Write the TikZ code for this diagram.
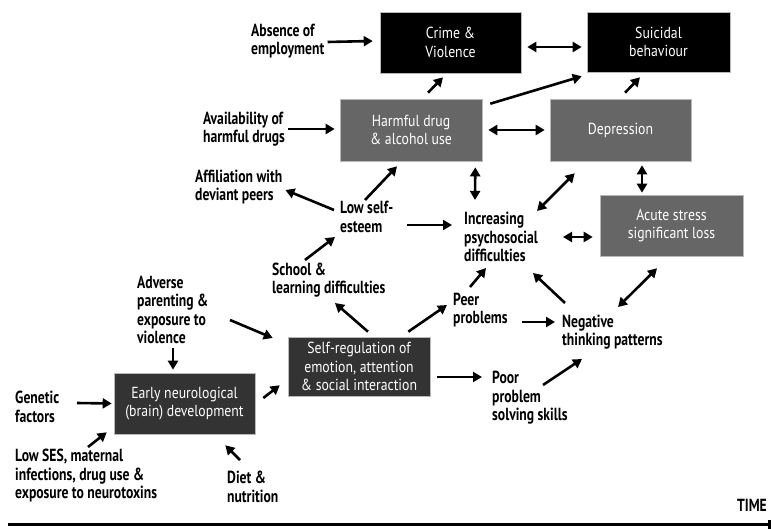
\documentclass[tikz,border=0pt]{standalone}
\usepackage{fontspec}
\setmainfont[FakeStretch=0.86, BoldFeatures={FakeStretch=0.78}]{PT Sans}
\usetikzlibrary{arrows.meta}
\definecolor{boxdark}{HTML}{333333}
\definecolor{boxgray}{HTML}{666666}
\tikzset{
  txt/.style={inner sep=0pt, align=left, anchor=west, font=\fontsize{17.5}{18.5}\selectfont\bfseries},
  boxbase/.style={rectangle, draw=gray!55, line width=0.6pt, text=white, align=center, inner sep=0pt, font=\fontsize{16}{18.5}\selectfont},
  blackbox/.style={boxbase, fill=black},
  darkbox/.style={boxbase, fill=boxdark},
  graybox/.style={boxbase, fill=boxgray},
  arr/.style={line width=2.6pt, -{Triangle[length=9pt,width=10pt]}},
  darr/.style={line width=2.6pt, {Triangle[length=9pt,width=10pt]}-{Triangle[length=9pt,width=10pt]}},
}
\begin{document}
\begin{tikzpicture}[x=1pt,y=-1pt]
\useasboundingbox (0,0) rectangle (771,529);
% boxes
\node[blackbox, minimum width=141pt, minimum height=61pt] (crime) at (450.5,42.5) {Crime \&\\Violence};
\node[blackbox, minimum width=143pt, minimum height=60pt] (suic) at (658.5,42) {Suicidal\\behaviour};
\node[graybox, minimum width=142pt, minimum height=62pt] (hd) at (411,130) {Harmful drug\\\& alcohol use};
\node[graybox, minimum width=141pt, minimum height=62pt] (dep) at (620.5,130) {Depression};
\node[graybox, minimum width=143pt, minimum height=61pt] (acute) at (671.5,225.5) {Acute stress\\significant loss};
\node[darkbox, minimum width=141pt, minimum height=61pt] (early) at (184.5,403.5) {Early neurological\\(brain) development};
\node[darkbox, minimum width=142pt, minimum height=59pt] (selfreg) at (359,366.5) {Self-regulation of\\emotion, attention\\\& social interaction};
% free texts
\node[txt] (abs) at (251,41) {Absence of\\employment};
\node[txt] (avail) at (203,129) {Availability of\\harmful drugs};
\node[txt] (affil) at (195,187) {Affiliation with\\deviant peers};
\node[txt] (lowse) at (340,217) {Low self-\\esteem};
\node[txt] (incr) at (464,237) {Increasing\\psychosocial\\difficulties};
\node[txt] (school) at (272,280) {School \&\\learning difficulties};
\node[txt] (adverse) at (137,310) {Adverse\\parenting \&\\exposure to\\violence};
\node[txt] (genetic) at (15,407) {Genetic\\factors};
\node[txt] (lowses) at (15,476) {Low SES, maternal\\infections, drug use \&\\exposure to neurotoxins};
\node[txt] (diet) at (227,487) {Diet \&\\nutrition};
\node[txt] (peer) at (453,310) {Peer\\problems};
\node[txt] (neg) at (562,332) {Negative\\thinking patterns};
\node[txt] (poor) at (492,398) {Poor\\problem\\solving skills};
\node[txt, anchor=east] (time) at (767,505) {TIME};
% arrows
\draw[arr] ([shift={(3,1)}]abs.east) -- ([shift={(-7,-1.5)}]crime.west);
\draw[arr] ([shift={(3,0)}]avail.east) -- ([shift={(-5,-1)}]hd.west);
\draw[arr] ([shift={(-6,-7)}]lowse.west) -- ([shift={(3,3)}]affil.east);
\draw[arr] ([shift={(25,-17)}]lowse.west) -- ([shift={(-14,5)}]hd.south);
\draw[arr] ([shift={(67,8)}]lowse.west) -- ([shift={(-12,-12)}]incr.west);
\draw[darr] ([shift={(-7,6)}]hd.south east) -- ([shift={(11,-12)}]incr.north west);
\draw[darr] ([xshift=6pt]hd.east) -- ([xshift=-5pt]dep.west);
\draw[arr] ([shift={(8,5)}]hd.north east) -- ([shift={(-5,4)}]suic.south west);
\draw[arr] ([shift={(17,-6)}]hd.north) -- ([shift={(-7.5,4)}]crime.south);
\draw[darr] ([shift={(6,4.5)}]crime.east) -- ([shift={(-5,5)}]suic.west);
\draw[arr] ([shift={(4.5,-6)}]dep.north) -- ([shift={(-18.5,5)}]suic.south);
\draw[darr] ([shift={(73,-1)}]incr.north west) -- ([shift={(25,12)}]dep.south west);
\draw[darr] ([shift={(21.5,4)}]dep.south) -- ([shift={(-29.5,-2)}]acute.north);
\draw[darr] ([shift={(99,0)}]incr.west) -- ([shift={(-7,11.5)}]acute.west);
\draw[arr] ([shift={(9,-5)}]selfreg.north) -- ([shift={(63,23)}]school.west);
\draw[arr] ([shift={(33,-20)}]school.west) -- ([shift={(-5,20)}]lowse.west);
\draw[arr] ([shift={(-22,-5)}]selfreg.north east) -- ([shift={(-6,-5)}]peer.west);
\draw[arr] ([shift={(17,-23)}]peer.west) -- ([shift={(22,31)}]incr.west);
\draw[arr] ([shift={(69,12)}]peer.west) -- ([shift={(-7,-10)}]neg.west);
\draw[arr] ([shift={(3,-29)}]neg.west) -- ([shift={(69,36)}]incr.west);
\draw[darr] ([shift={(56,-25)}]neg.west) -- ([shift={(-14.5,12)}]acute.south);
\draw[arr] ([shift={(7,10.5)}]selfreg.east) -- ([shift={(-10,-21)}]poor.west);
\draw[arr] ([shift={(51,-13)}]poor.west) -- ([shift={(20,27)}]neg.west);
\draw[arr] ([shift={(93,10)}]adverse.west) -- ([shift={(-15,-28.5)}]selfreg.west);
\draw[arr] ([shift={(36,38)}]adverse.west) -- ([shift={(-11.5,-3)}]early.north);
\draw[arr] ([shift={(62,-4)}]genetic.west) -- ([shift={(-2,0)}]early.west);
\draw[arr] ([shift={(73,-29)}]lowses.west) -- ([shift={(-7,-2)}]early.south west);
\draw[arr] ([shift={(13,-27)}]diet.west) -- ([shift={(-30,11)}]early.south east);
\draw[arr] ([shift={(8,-5.5)}]early.east) -- ([shift={(-8,-11)}]selfreg.south west);
% time axis
\coordinate (t0) at (8,524);
\coordinate (t1) at (769,524);
\draw[line width=3pt] (t0) -- (t1);
\draw[line width=3pt] ([yshift=-6pt]t1) -- ([yshift=4pt]t1);
\end{tikzpicture}
\end{document}
